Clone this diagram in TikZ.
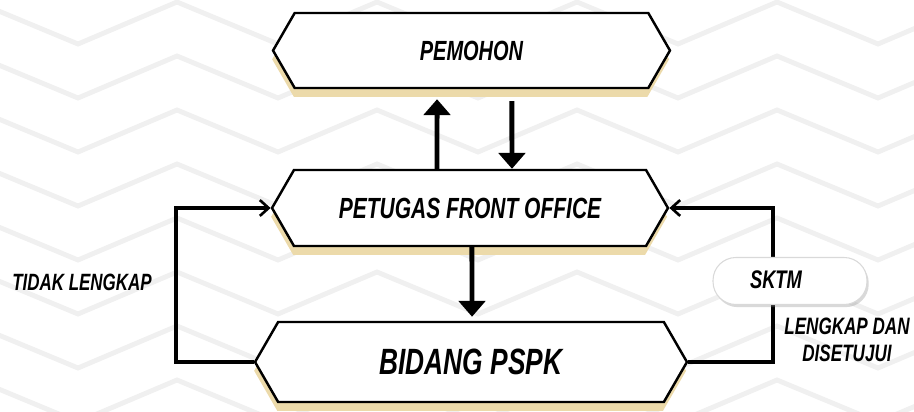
\documentclass[tikz,border=0pt]{standalone}
\usepackage{fontspec}
\setmainfont{Liberation Sans}[FakeStretch=0.72]
\usetikzlibrary{shapes.symbols}
\usetikzlibrary{arrows.meta}
\usetikzlibrary{shadows}
\definecolor{shadowtan}{RGB}{236,218,170}
\definecolor{chevron}{RGB}{240,240,240}

\begin{document}
\begin{tikzpicture}[x=0.02cm,y=-0.02cm,font=\bfseries\itshape,
            hexbox/.style={signal, signal to=west and east, signal pointer angle=120,
              draw=black, line width=1.4pt, fill=white, inner sep=0pt,
              drop shadow={shadow xshift=-0.5pt, shadow yshift=-5pt, fill=shadowtan, opacity=1}},
            pill/.style={rectangle, rounded corners=13pt, draw=black!15, line width=0.6pt, fill=white,
              minimum width=3.08cm, minimum height=0.94cm,
              drop shadow={shadow xshift=1pt, shadow yshift=-1.5pt, opacity=0.3}},
            bigarrow/.style={line width=2.8pt, -{Triangle[width=15pt,length=9pt]}},
            looparrow/.style={line width=1.9pt, -{Straight Barb[width=9pt,length=5pt,line width=1.5pt]}}
            ]
            \useasboundingbox (0,0) rectangle (914,412);
            
            % The background
            \begin{scope}
            \clip (0,0) rectangle (914,412);
            \foreach \j in {-1,...,8}{
                \draw[chevron, line width=2.8pt] (-122,{44+54*\j})
                    \foreach \k in {0,...,5}{ -- ({-23+200*\k},{2+54*\j}) -- ({78+200*\k},{44+54*\j}) };
            }
            \end{scope}
            
            % The boxes
            \node[hexbox, minimum width=7.94cm, minimum height=1.5cm,
                font=\bfseries\itshape\fontsize{15.8}{18}\selectfont] (pemohon) at (471.5,50.5) {PEMOHON};
            \node[hexbox, minimum width=7.92cm, minimum height=1.52cm,
                font=\bfseries\itshape\fontsize{16.6}{19}\selectfont] (petugas) at (470,208) {PETUGAS FRONT OFFICE};
            \node[hexbox, minimum width=8.64cm, minimum height=1.6cm,
                font=\bfseries\itshape\fontsize{20.8}{24}\selectfont] (bidang) at (471,362) {BIDANG PSPK};
            
            % The loops
            \coordinate (leftturn) at (176,363);
            \coordinate (rightturn) at (773,363);
            \draw[looparrow] (bidang.west) -- (bidang.west -| leftturn) |- (petugas.west);
            \draw[looparrow] (bidang.east) -- (bidang.east -| rightturn) |- (petugas.east);
            
            % The arrows
            \draw[bigarrow] ([xshift=-18.8pt]petugas.north) -- ([xshift=-19.6pt,yshift=-5.7pt]pemohon.south);
            \draw[bigarrow] ([xshift=23pt,yshift=-6.8pt]pemohon.south) -- ([xshift=23.9pt]petugas.north);
            \draw[bigarrow] ([xshift=1.1pt]petugas.south) -- ([xshift=0.6pt,yshift=2.3pt]bidang.north);
            
            % The labels
            \node[pill] (sktmbox) at (790,281) {};
            \node[font=\bfseries\itshape\fontsize{14.5}{17}\selectfont] (sktm) at (776,280) {SKTM};
            \node[font=\bfseries\itshape\fontsize{13.4}{16}\selectfont] (tidak) at (82,282) {TIDAK LENGKAP};
            \node[align=center, font=\bfseries\itshape\fontsize{13.5}{15.4}\selectfont] (lengkap) at (847,340)
                {LENGKAP DAN\\DISETUJUI};
\end{tikzpicture}
\end{document}
